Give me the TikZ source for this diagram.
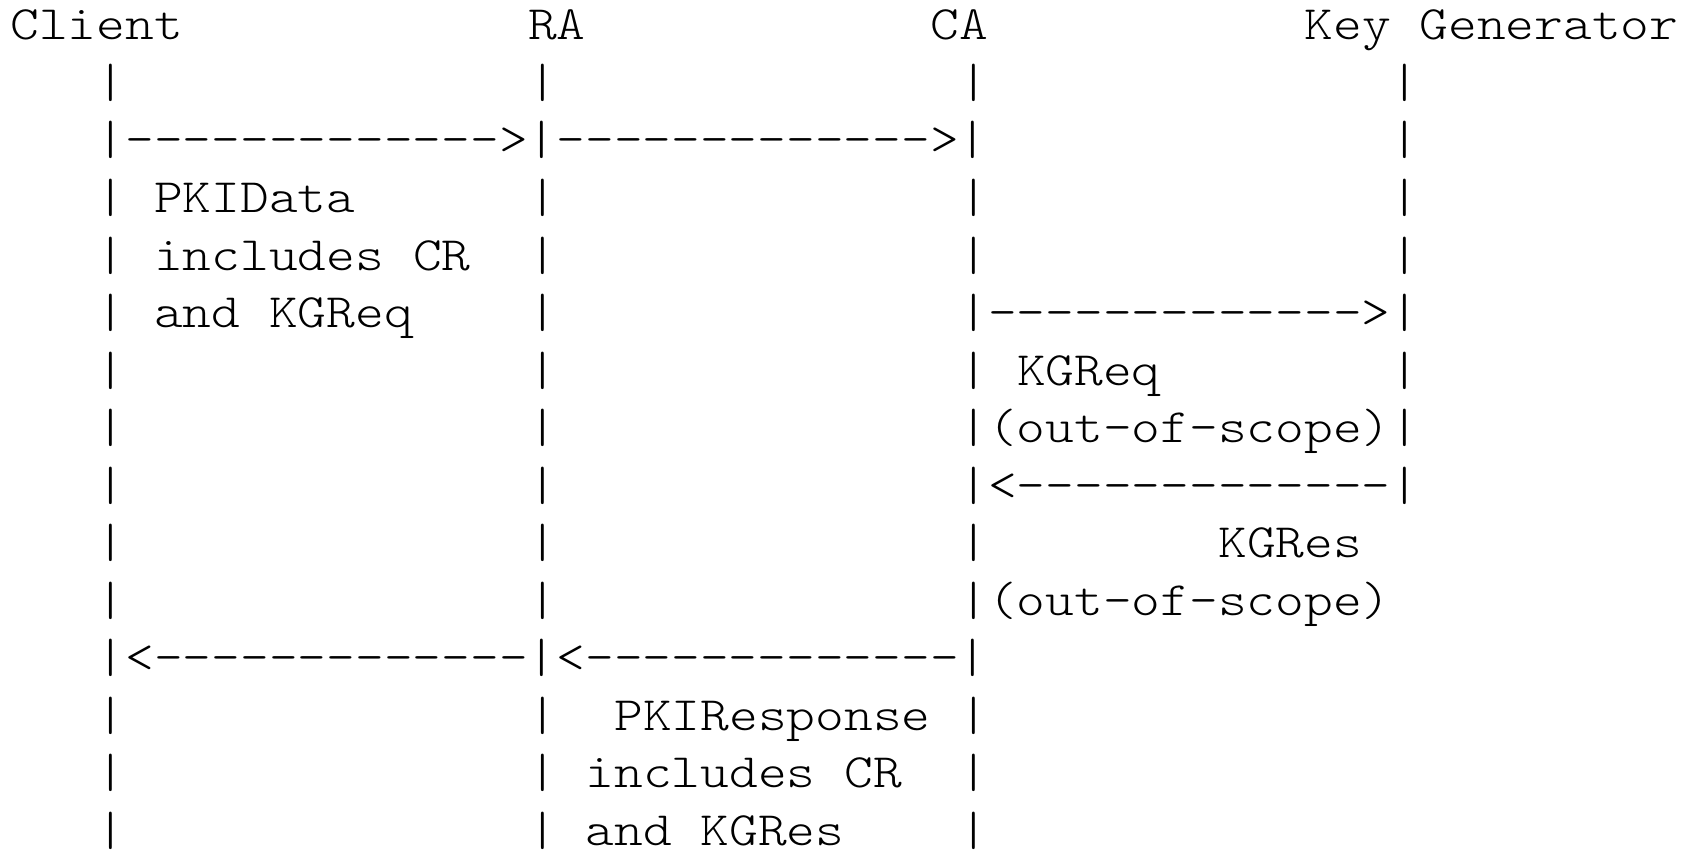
\documentclass[tikz,border=0pt]{standalone}
\usepackage{fontspec}
% Light typewriter face widened to a 0.6em character cell
\newfontfamily\asciimono{lmmonolt10-regular.otf}[FakeStretch=1.1429,Ligatures=TeXOff]
\tikzset{
  glyphs/.style={anchor=base west, inner sep=0pt, outer sep=0pt,
    font=\asciimono\fontsize{47.9}{57.5}\selectfont, text=black},
}
% \cell{name}{row}{column}{text}
\newcommand{\cell}[4]{\node[glyphs] (#1) at (#3,#2) {#4};}
\begin{document}
\begin{tikzpicture}
\fill[white] (0pt,0pt) rectangle (1691pt,-850pt);
\useasboundingbox (0pt,0pt) rectangle (1691pt,-850pt);
\begin{scope}[shift={(10.4pt,-40pt)}, x=28.76pt, y=-57.5pt]
% row 0: participants
\cell{client}{0}{0}{Client}
\cell{ra}{0}{18}{RA}
\cell{ca}{0}{32}{CA}
\cell{key}{0}{45}{Key}
\cell{gen}{0}{49}{Generator}
% row 1
\cell{a1}{1}{3}{|}\cell{b1}{1}{18}{|}\cell{c1}{1}{33}{|}\cell{d1}{1}{48}{|}
% row 2: request Client -> RA -> CA
\cell{req}{2}{3}{|------------->|------------->|}\cell{d2}{2}{48}{|}
% row 3
\cell{a3}{3}{3}{|}\cell{pkidata}{3}{5}{PKIData}\cell{b3}{3}{18}{|}\cell{c3}{3}{33}{|}\cell{d3}{3}{48}{|}
% row 4
\cell{a4}{4}{3}{|}\cell{incl1}{4}{5}{includes}\cell{cr1}{4}{14}{CR}\cell{b4}{4}{18}{|}\cell{c4}{4}{33}{|}\cell{d4}{4}{48}{|}
% row 5: CA -> Key Generator
\cell{a5}{5}{3}{|}\cell{and1}{5}{5}{and}\cell{kgreq1}{5}{9}{KGReq}\cell{b5}{5}{18}{|}\cell{kgout}{5}{33}{|------------->|}
% row 6
\cell{a6}{6}{3}{|}\cell{b6}{6}{18}{|}\cell{c6}{6}{33}{|}\cell{kgreq2}{6}{35}{KGReq}\cell{d6}{6}{48}{|}
% row 7
\cell{a7}{7}{3}{|}\cell{b7}{7}{18}{|}\cell{scope1}{7}{33}{|(out-of-scope)|}
% row 8: Key Generator -> CA
\cell{a8}{8}{3}{|}\cell{b8}{8}{18}{|}\cell{kgback}{8}{33}{|<-------------|}
% row 9
\cell{a9}{9}{3}{|}\cell{b9}{9}{18}{|}\cell{c9}{9}{33}{|}\cell{kgres1}{9}{42}{KGRes}
% row 10
\cell{a10}{10}{3}{|}\cell{b10}{10}{18}{|}\cell{scope2}{10}{33}{|(out-of-scope)}
% row 11: response CA -> RA -> Client
\cell{resp}{11}{3}{|<-------------|<-------------|}
% row 12
\cell{a12}{12}{3}{|}\cell{b12}{12}{18}{|}\cell{pkiresp}{12}{21}{PKIResponse}\cell{c12}{12}{33}{|}
% row 13
\cell{a13}{13}{3}{|}\cell{b13}{13}{18}{|}\cell{incl2}{13}{20}{includes}\cell{cr2}{13}{29}{CR}\cell{c13}{13}{33}{|}
% row 14
\cell{a14}{14}{3}{|}\cell{b14}{14}{18}{|}\cell{and2}{14}{20}{and}\cell{kgres2}{14}{24}{KGRes}\cell{c14}{14}{33}{|}
\end{scope}
\end{tikzpicture}
\end{document}
